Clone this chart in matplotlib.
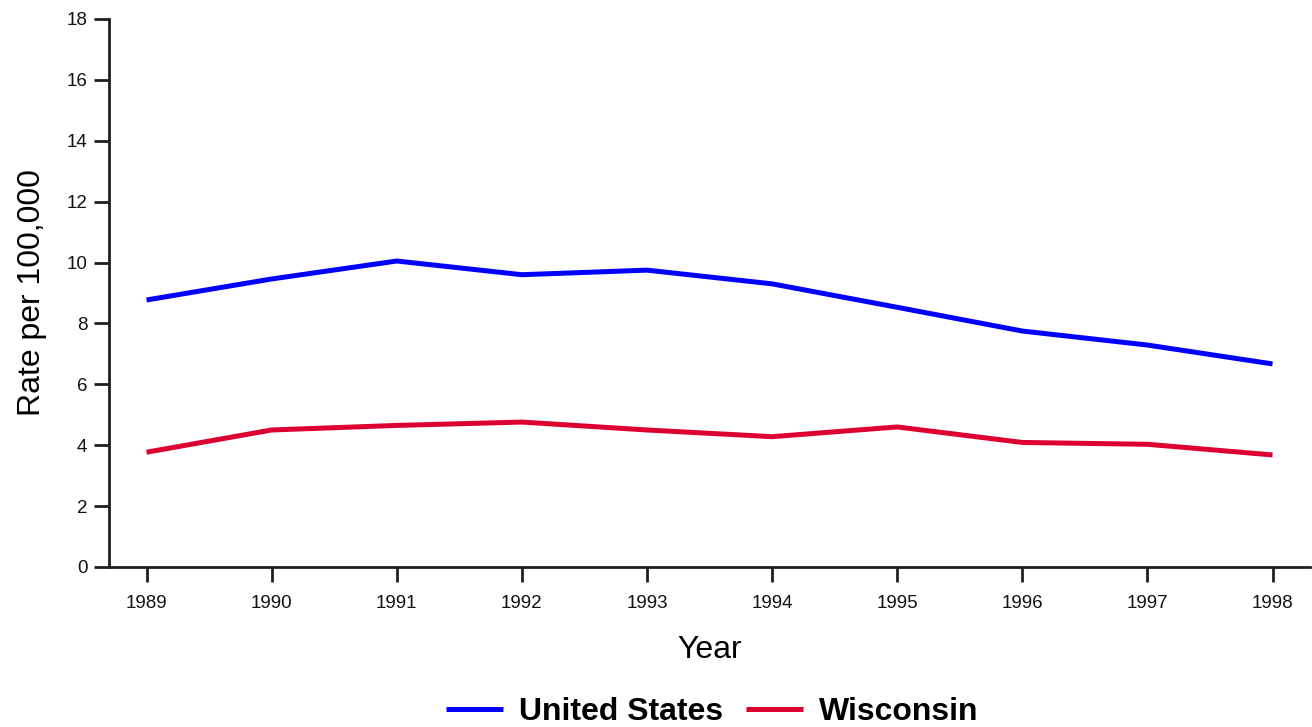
import matplotlib
matplotlib.use("Agg")
import matplotlib.pyplot as plt

years = [1989, 1990, 1991, 1992, 1993, 1994, 1995, 1996, 1997, 1998]
us_rate = [8.77, 9.46, 10.05, 9.60, 9.75, 9.30, 8.53, 7.75, 7.29, 6.67]
wi_rate = [3.77, 4.50, 4.65, 4.76, 4.50, 4.28, 4.60, 4.09, 4.03, 3.68]
series_names = ["United States", "Wisconsin"]
y_ticks = [0, 2, 4, 6, 8, 10, 12, 14, 16, 18]

plt.rcParams['font.family'] = ['Liberation Sans', 'DejaVu Sans']

fig = plt.figure(figsize=(13.12, 7.27), dpi=100)
ax = fig.add_axes([0.0831, 0.2201, 0.9154, 0.7538])

ax.plot(years, us_rate, color='#0000FF', lw=3.6, label=series_names[0], solid_capstyle='butt')
ax.plot(years, wi_rate, color='#DC0032', lw=3.6, label=series_names[1], solid_capstyle='butt')

ax.set_xlim(1988.70, 1998.30)
ax.set_ylim(0, 18)
ax.set_xticks(years)
ax.set_xticklabels([str(y) for y in years], fontsize=13.5)
ax.set_yticks(y_ticks)
ax.set_yticklabels([str(v) for v in y_ticks], fontsize=13.5)

for s in ['top', 'right']:
    ax.spines[s].set_visible(False)
for s in ['left', 'bottom']:
    ax.spines[s].set_linewidth(2)
    ax.spines[s].set_color('#231f20')
ax.tick_params(axis='both', length=10.5, width=2, color='#231f20', labelcolor='#111111')
ax.tick_params(axis='x', pad=10)
ax.tick_params(axis='y', pad=5)

ax.set_xlabel("Year", fontsize=23, labelpad=16)
ax.set_ylabel("Rate per 100,000", fontsize=23, labelpad=14)

leg = fig.legend(loc='center', bbox_to_anchor=(0.543, 0.021), ncol=2, frameon=False,
                 prop={'weight': 'bold', 'size': 23}, handlelength=1.8,
                 columnspacing=0.7, handletextpad=0.5)

fig.savefig("out.png", dpi=100)
